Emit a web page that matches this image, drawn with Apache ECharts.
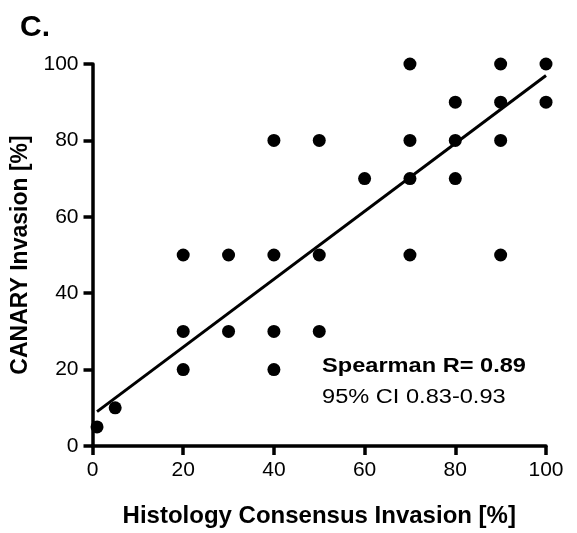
<!DOCTYPE html>
<html><head><meta charset="utf-8">
<script src="https://cdn.jsdelivr.net/npm/echarts@6/dist/echarts.min.js"></script>
<style>html,body{margin:0;padding:0;background:#fff}#c{width:577px;height:533px}</style>
</head><body><div id="c"></div>
<script>
const histology = [1,5,20,20,20,30,30,40,40,40,40,50,50,50,60,70,70,70,70,80,80,80,90,90,90,90,100,100];
const canary    = [5,10,20,30,50,30,50,20,30,50,80,30,50,80,70,50,70,80,100,70,80,90,50,80,90,100,90,100];
const fitX = [1,100];
const fitY = [9,97];
const ticks = [0,20,40,60,80,100];

const font = '"Liberation Sans", Arial, sans-serif';
const chart = echarts.init(document.getElementById('c'));
function axis(extra){
  return Object.assign({
    type:'value', min:ticks[0], max:ticks[ticks.length-1], interval:ticks[1]-ticks[0],
    axisLine:{show:true, lineStyle:{color:'#000', width:3.5}},
    axisTick:{show:true, length:9, lineStyle:{color:'#000', width:3.5}},
    axisLabel:{color:'#000', fontSize:21, fontFamily:font, margin:14},
    splitLine:{show:false},
    nameLocation:'middle'
  }, extra);
}
chart.setOption({
  animation:false,
  title:{text:'C.', left:15, top:8, textStyle:{fontSize:30, fontWeight:'bold', color:'#000', fontFamily:font}},
  grid:{left:92.5, right:31, top:64, bottom:80},
  xAxis:axis({name:'Histology Consensus Invasion [%]', nameGap:58,
    nameTextStyle:{color:'#000', fontSize:24, fontWeight:'bold', fontFamily:font}}),
  yAxis:axis({name:'CANARY Invasion [%]', nameGap:60,
    nameTextStyle:{color:'#000', fontSize:23, fontWeight:'bold', fontFamily:font}}),
  graphic:[
    {type:'text', x:322, y:356, scaleX:1.18, style:{text:'Spearman R= 0.89', fontSize:20, fontWeight:'bold', fill:'#000', fontFamily:font}},
    {type:'text', x:322, y:387, scaleX:1.18, style:{text:'95% CI 0.83-0.93', fontSize:20, fill:'#000', fontFamily:font}}
  ],
  series:[
    {type:'scatter', data:histology.map((x,i)=>[x, canary[i]]), symbolSize:13,
     itemStyle:{color:'#000', opacity:1}, z:3},
    {type:'line', data:fitX.map((x,i)=>[x, fitY[i]]), symbol:'none',
     lineStyle:{color:'#000', width:3}, z:2}
  ]
});
</script></body></html>
